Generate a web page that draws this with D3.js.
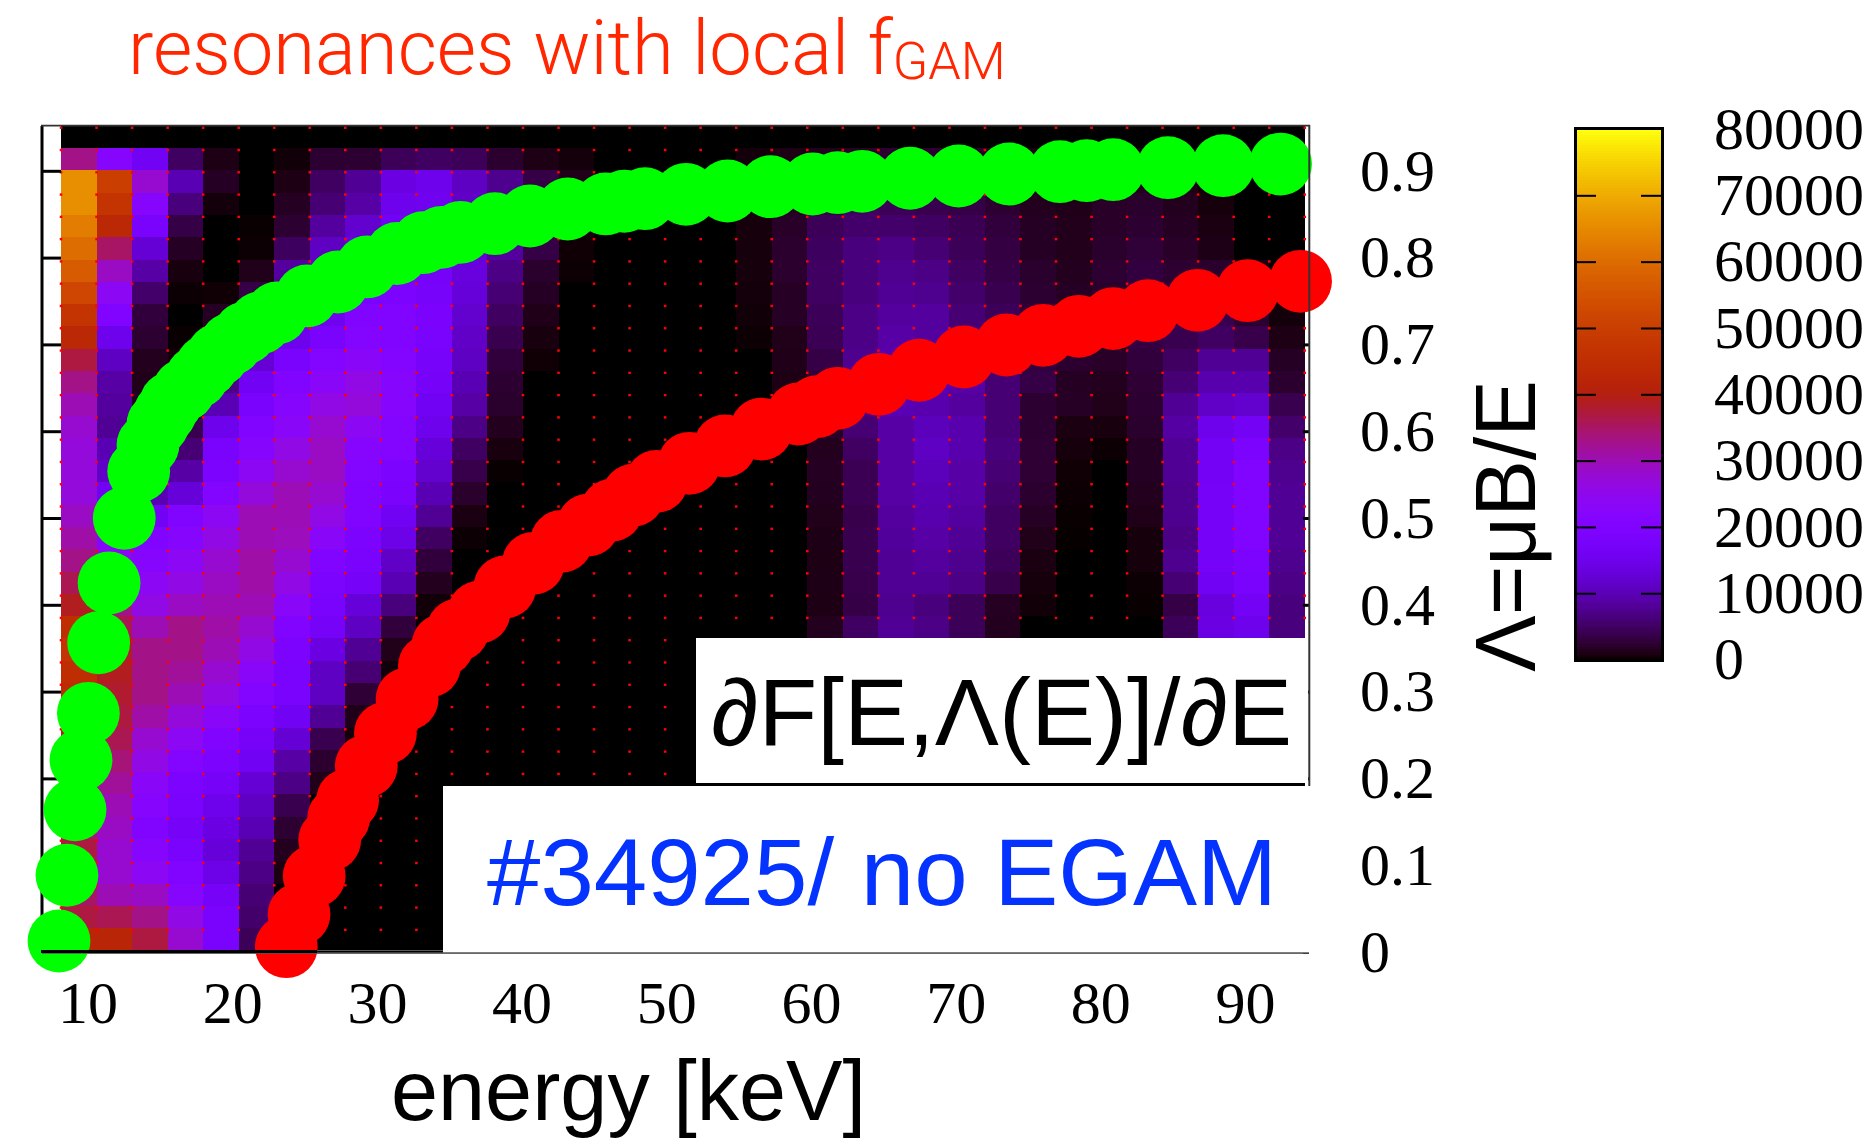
<!DOCTYPE html>
<html>
<head>
<meta charset="utf-8">
<title>resonances with local fGAM</title>
<script src="https://cdnjs.cloudflare.com/ajax/libs/d3/7.8.5/d3.min.js"></script>
<style>
html, body { margin: 0; padding: 0; background: #fff; }
svg { display: block; }
.serif { font-family: "Liberation Serif", serif; }
.sans { font-family: "Liberation Sans", sans-serif; }
</style>
</head>
<body>
<div id="vue"></div>
<script>
// ticks
var xTicks = [10, 20, 30, 40, 50, 60, 70, 80, 90];
var yTicks = [0, 0.1, 0.2, 0.3, 0.4, 0.5, 0.6, 0.7, 0.8, 0.9];
var cTicks = [0, 10000, 20000, 30000, 40000, 50000, 60000, 70000, 80000];

// resonance curves
var greenE = [8.03, 8.58, 9.14, 9.55, 10.06, 10.77, 11.49, 12.54, 13.54, 14.18, 14.87, 15.36, 15.77, 16.67, 17.57, 18.26, 19.02, 19.92, 20.88, 21.92, 23.10, 25.17, 27.31, 29.32, 31.39, 33.19, 34.48, 35.79, 38.16, 40.58, 43.19, 45.81, 47.10, 48.53, 51.36, 54.24, 57.21, 60.12, 61.85, 63.54, 66.86, 70.21, 73.70, 77.21, 79.05, 80.89, 84.67, 88.49, 92.46];
var greenL = [.0127, .0884, .1639, .2212, .275, .3563, .4251, .4997, .5538, .5841, .6083, .621, .6325, .6475, .6624, .6751, .6878, .7005, .7131, .7247, .7362, .7558, .7719, .7892, .8047, .8172, .8234, .8291, .8391, .8479, .856, .8618, .8649, .8679, .8729, .8767, .8817, .8848, .8863, .8879, .8914, .894, .8963, .899, .9001, .9013, .9036, .9059, .9078];
var redE = [23.74, 24.62, 25.67, 26.74, 27.36, 27.98, 29.27, 30.59, 32.09, 33.63, 34.57, 35.6, 37.06, 38.85, 40.81, 42.77, 44.61, 46.23, 47.72, 49.34, 51.59, 54.06, 56.59, 59.12, 60.41, 61.85, 64.7, 67.48, 70.57, 73.52, 76.05, 78.52, 80.89, 83.29, 86.72, 90.18, 93.84];
var redL = [.0061, .0434, .0876, .129, .1544, .1751, .2143, .252, .2915, .3295, .3537, .371, .3914, .4205, .4478, .4731, .4919, .5089, .5262, .5423, .563, .583, .6025, .6198, .6282, .6379, .654, .6702, .6855, .6993, .7105, .7208, .7298, .7388, .7508, .7619, .7727];

// grid of the distribution
var energyGrid = d3.range(36).map(function (i) { return 8.17 + 2.456 * i; });
var lambdaGrid = d3.range(38).map(function (k) { return 0.0019 + 0.02567 * k; });

// first row of each column (from Lambda=0), everything below and above the list is 0
var heatStart = [0, 0, 0, 0, 0, 0, 0, 7, 9, 12, 15, 18, 21, 26, 30, 0, 0, 0, 0, 27, 24, 14, 14, 14, 14, 14, 14, 15, 18, 22, 15, 14, 14, 14, 14];
// values in thousands, one list per energy column, bottom to top
var heatCols = [
  [42, 37, 35, 35, 37, 34, 33, 33, 36, 38, 43, 44, 45, 47, 45, 39, 36, 33, 31, 29, 27, 27, 27, 28, 30, 33, 37, 43, 47, 52, 57, 60, 63, 66, 66, 33],
  [42, 36, 30, 28, 28, 29, 30, 32, 34, 36, 37, 38, 39, 38, 36, 33, 28, 24, 22, 20, 16, 11.5, 10, 8, 8.5, 9, 11, 15, 20, 24, 29, 35, 43, 47, 50, 22],
  [37, 33, 29, 24, 22, 20, 22, 23, 26, 28, 31, 33, 33, 33, 30, 26, 24, 22, 20, 16, 10, 7, 5, 3, 1.7, 1.3, 1.5, 2.5, 3, 5.5, 9, 12.5, 18, 22, 28, 16],
  [28, 26, 22, 20, 18, 17, 18, 19, 21, 24, 27, 30, 32, 33, 33, 29, 26, 24, 22, 20, 13, 9, 6, 4, 2, 1, .5, .1, 0, .2, .7, 1.8, 3.5, 6.5, 10, 5],
  [18, 18, 17, 14.5, 13, 14, 15, 17, 19, 20, 23, 26, 28, 30, 31, 30, 29, 28, 26, 24, 21, 19, 18, 15, 10, 7, 4.5, 3, 1.7, .3, 0, 0, 0, .5, 1.8, 1],
  [4.5, 5.5, 6, 7, 8, 10, 11, 12.5, 16, 17, 19, 21, 23, 26, 28, 30, 31, 31, 30, 30, 27, 24, 22, 20, 18, 16, 12.5, 7.5, 5.5, 3.5, 1.3, .2, .1, 0, 0, 0],
  [0, 0, 0, .8, 1.5, 2.5, 4, 7, 9, 12.5, 16, 18, 18, 19, 20, 23, 26, 28, 29.5, 30, 30, 28, 26, 23, 22, 20, 18, 15, 12, 10, 8.5, 4.8, 2.5, 1.7, 1, .4],
  [1.3, 2.3, 4, 8, 11, 11, 14, 17, 18, 19, 20, 23, 26, 28, 29, 29, 28, 26, 23, 21, 18, 15.5, 14, 12, 11, 8.5, 6, 5, 2.5],
  [.5, 1.2, 2.7, 6, 8, 11, 13, 17, 18, 19, 20, 20, 21, 22, 24, 27, 26, 23, 21, 20, 18, 16, 14, 12, 9, 8, 2.5],
  [.4, 1.3, 3, 6.5, 10, 11.5, 14.5, 16, 18.5, 19, 21, 21, 22, 22, 21, 20, 20, 19, 18, 17, 16, 15, 14, 4.5],
  [.4, 1.5, 3, 5, 8, 10, 12, 13, 15, 16, 17, 17.5, 18, 18.5, 17.5, 17, 16, 15.5, 15.5, 15, 5],
  [.2, .8, 2.2, 3.8, 5, 7, 9, 10, 11, 11.5, 12, 13, 13.5, 12.5, 12, 11.5, 11, 4.5],
  [.1, .7, 1.5, 2.2, 2.5, 3, 4, 5, 6, 7, 8.5, 8.5, 8, 7.5, 2.3],
  [.3, .7, 1.2, 1.8, 2.2, 3.5, 3.8, 3.8, 3.5, 1],
  [.2, .3, .8, 1.3, 1.3, .5],
  [],
  [],
  [],
  [],
  [.2, .4, .5, .6, .6, .6, .6, .6, .5],
  [.3, 1, 1.2, 1.3, 1.9, 1.9, 2.3, 2.3, 2, 1.8, 1.5, 1],
  [1.5, 1, 1.1, 1, 1.1, 1.3, 1.6, 1.7, 1.5, 2, 2.5, 3, 3.5, 4.3, 4.5, 5, 5, 4.8, 4.5, 3.5, 2.5, 1.5],
  [5, 3.5, 3.8, 4, 4, 3.8, 4.3, 4.3, 5, 6, 7, 7.5, 7.5, 7, 7, 6.5, 6.5, 6.5, 5.5, 5, 4, 2],
  [8, 7.5, 8, 8, 8.3, 8.5, 9, 9, 9, 9, 10, 10, 9.5, 9, 8.5, 8, 7.5, 7, 5.5, 4.5, 3.5, 2.5],
  [7, 6.5, 8, 8.5, 9, 9.5, 10, 10.5, 11, 10.5, 9.5, 10, 9, 8.5, 8.5, 7.5, 7, 6, 5, 4, 3.5, 2.5],
  [4.5, 4.5, 7, 7.5, 8, 8.5, 9, 9, 9.5, 9.5, 8.5, 9, 7, 6.5, 6, 5.5, 5, 4.5, 4.3, 3.5, 3, 2],
  [1.5, 1.7, 3.8, 4.5, 5, 5, 5.5, 6, 6.5, 6, 6, 6, 5.5, 5, 4.5, 4, 3.5, 3.3, 3, 2.5, 2, 1.5],
  [.4, .6, .8, 1.3, 1.9, 2.3, 2.6, 2.6, 2.5, 2.5, 3.5, 3.2, 3, 2.8, 2.5, 2.2, 1.8, 1.8, 1.5, 1.2, 1],
  [.05, .1, .2, .3, .6, .9, 1.9, 1.7, 2.3, 2, 2, 1.8, 1.5, 1.4, 1.4, 1.2, 1, .8],
  [.2, .7, 1.3, 1.5, 2, 2, 2, 2.2, 2.4, 2.2, 2, 2, 1.5, 1],
  [.1, .2, .6, .6, 1.2, 1.5, 1.8, 1.8, 2.2, 2.4, 2.6, 3, 3.3, 3.5, 3.3, 3.2, 2.8, 2.5, 2.2, 1.5, 1],
  [4.5, 3.5, 6, 7.5, 7, 7.5, 7.5, 8, 8, 8.8, 8, 6, 5, 4, 3.5, 3, 2.5, 2, 1.7, 1.5, 1, .5],
  [14, 13.5, 16, 17, 17, 17, 17, 16.5, 16.5, 15, 11.5, 9.5, 8, 5, 4, 3, 2.2, 1.1, .8, .6, .3],
  [15, 16.5, 18, 19, 20, 20, 20, 20, 19, 16.5, 12, 9.5, 8, 3.8, 2.5, 2, .8],
  [6.5, 6.5, 7, 7.5, 8, 8, 8, 7.5, 7, 5.5, 4, 2.3, 1.8, 1, .5]
];

var svg = d3.select("#vue").append("svg").attr("width", 1875).attr("height", 1139);

var x = d3.scaleLinear().domain([10, 90]).range([87.5, 1245]);
var y = d3.scaleLinear().domain([0, 0.9]).range([952, 170.8]);
var cy = d3.scaleLinear().domain([0, 80000]).range([659.6, 129]);

// gnuplot default palette (rgbformulae 7,5,15), blue side softened a bit around 40000
function palette(t) {
  var r = Math.sqrt(t), g = t * t * t, s = Math.sin(2 * Math.PI * t);
  var b = t < 0.25 ? s : Math.min(1, 0.5 * (s + Math.sqrt(s * s + 0.02)));
  return d3.rgb(255 * r, 255 * g, 255 * b) + "";
}
var color = d3.scaleSequential(palette).domain([0, 80000]);

// cells
var cells = [];
heatCols.forEach(function (col, i) {
  d3.range(37).forEach(function (k) {
    var v = col[k - heatStart[i]];
    cells.push({ i: i, k: k, v: v === undefined ? 0 : v * 1000 });
  });
});
svg.append("g").attr("shape-rendering", "crispEdges")
  .selectAll("rect").data(cells).enter().append("rect")
  .attr("x", function (d) { return x(energyGrid[d.i]); })
  .attr("y", function (d) { return y(lambdaGrid[d.k + 1]); })
  .attr("width", function (d) { return x(energyGrid[d.i + 1]) - x(energyGrid[d.i]); })
  .attr("height", function (d) { return y(lambdaGrid[d.k]) - y(lambdaGrid[d.k + 1]); })
  .attr("fill", function (d) { return color(d.v); });
// black strip under the last row
svg.append("rect").attr("x", x(energyGrid[0])).attr("y", y(lambdaGrid[0]))
  .attr("width", x(energyGrid[35]) - x(energyGrid[0])).attr("height", 3).attr("fill", "#000");

// grid points
var points = [];
energyGrid.forEach(function (e) {
  lambdaGrid.slice(1).forEach(function (l) { points.push([e, l]); });
});
svg.append("g").selectAll("rect").data(points).enter().append("rect")
  .attr("x", function (d) { return x(d[0]) - 1.3; })
  .attr("y", function (d) { return y(d[1]) + 0.6; })
  .attr("width", 2.6).attr("height", 2.4).attr("fill", "#ff0000");

// frame left and top, under the circles
var leftAxis = svg.append("g").attr("transform", "translate(42,0)")
  .call(d3.axisRight(y).tickValues(yTicks).tickSize(19).tickFormat(""));
leftAxis.select(".domain").remove();
leftAxis.selectAll("line").attr("stroke", "#000").attr("stroke-width", 3);
svg.append("line").attr("x1", 42).attr("x2", 42).attr("y1", 126).attr("y2", 953).attr("stroke", "#000").attr("stroke-width", 3);
svg.append("line").attr("x1", 41).attr("x2", 1310).attr("y1", 125.6).attr("y2", 125.6).attr("stroke", "#333").attr("stroke-width", 1.8);

// y axis with labels on the right
var rightAxis = svg.append("g").attr("transform", "translate(1309,0)")
  .call(d3.axisRight(y).tickValues(yTicks).tickSize(-6).tickPadding(51).tickFormat(function (d) { return d; }));
rightAxis.select(".domain").remove();
rightAxis.selectAll("line").attr("stroke", "#000").attr("stroke-width", 3);
rightAxis.selectAll("text").attr("class", "serif").attr("font-family", null).attr("font-size", 60).attr("fill", "#000");

// resonances
svg.append("g").selectAll("circle").data(greenE).enter().append("circle")
  .attr("cx", function (d) { return x(d); })
  .attr("cy", function (d, i) { return y(greenL[i]); })
  .attr("r", 31.4).attr("fill", "#00ff00");
svg.append("g").selectAll("circle").data(redE).enter().append("circle")
  .attr("cx", function (d) { return x(d); })
  .attr("cy", function (d, i) { return y(redL[i]); })
  .attr("r", 31.4).attr("fill", "#ff0000");

svg.append("line").attr("x1", 1309.3).attr("x2", 1309.3).attr("y1", 125).attr("y2", 786).attr("stroke", "#333").attr("stroke-width", 2);

// white boxes pasted on the plot
svg.append("rect").attr("x", 696).attr("y", 638).attr("width", 612).attr("height", 145).attr("fill", "#fff");
svg.append("rect").attr("x", 443).attr("y", 786).attr("width", 870).attr("height", 167).attr("fill", "#fff");

// x axis
var bottomAxis = svg.append("g").attr("transform", "translate(0,953)")
  .call(d3.axisBottom(x).tickValues(xTicks).tickSize(0).tickPadding(27).tickFormat(function (d) { return d; }));
bottomAxis.select(".domain").remove();
bottomAxis.selectAll("text").attr("class", "serif").attr("font-family", null).attr("font-size", 60).attr("fill", "#000");
svg.append("line").attr("x1", 42).attr("x2", 1309).attr("y1", 953).attr("y2", 953).attr("stroke", "#555").attr("stroke-width", 1.4);
svg.append("line").attr("x1", 41).attr("x2", 317).attr("y1", 951.6).attr("y2", 951.6).attr("stroke", "#000").attr("stroke-width", 3);

// colour box
var cbar = svg.append("g");
cbar.attr("shape-rendering", "crispEdges").selectAll("rect").data(d3.range(0, 80000, 400)).enter().append("rect")
  .attr("x", 1575).attr("width", 87)
  .attr("y", function (d) { return cy(d + 400); })
  .attr("height", function (d) { return cy(d) - cy(d + 400) + 0.5; })
  .attr("fill", function (d) { return color(d + 200); });
cbar.append("rect").attr("x", 1575.5).attr("y", 128).attr("width", 86.5).attr("height", 532)
  .attr("fill", "none").attr("stroke", "#000").attr("stroke-width", 3);

var innerTicks = cTicks.slice(1, -1);
var cLeft = svg.append("g").attr("transform", "translate(1576,0)")
  .call(d3.axisLeft(cy).tickValues(innerTicks).tickSize(-20).tickFormat(""));
var cRight = svg.append("g").attr("transform", "translate(1661,0)")
  .call(d3.axisRight(cy).tickValues(innerTicks).tickSize(-20).tickFormat(""));
[cLeft, cRight].forEach(function (a) {
  a.select(".domain").remove();
  a.selectAll("line").attr("stroke", "#000").attr("stroke-width", 2);
});
var cLabels = svg.append("g").attr("transform", "translate(1663,0)")
  .call(d3.axisRight(cy).tickValues(cTicks).tickSize(0).tickPadding(51).tickFormat(function (d) { return d; }));
cLabels.select(".domain").remove();
cLabels.selectAll("text").attr("class", "serif").attr("font-family", null).attr("font-size", 60).attr("fill", "#000");

// texts
svg.append("text").attr("class", "sans").attr("x", 391).attr("y", 1120)
  .attr("font-size", 85).attr("textLength", 475).attr("lengthAdjust", "spacingAndGlyphs").attr("fill", "#000").text("energy [keV]");
svg.append("text").attr("class", "sans").attr("transform", "translate(1535,672) rotate(-90)")
  .attr("font-size", 85).attr("textLength", 292).attr("lengthAdjust", "spacingAndGlyphs").attr("fill", "#000").text("Λ=μB/E");
svg.append("text").attr("class", "sans").attr("x", 711).attr("y", 745)
  .attr("font-size", 94).attr("textLength", 581).attr("lengthAdjust", "spacingAndGlyphs").attr("fill", "#000").text("∂F[E,Λ(E)]/∂E");
svg.append("text").attr("class", "sans").attr("x", 487).attr("y", 905)
  .attr("font-size", 94).attr("textLength", 790).attr("lengthAdjust", "spacingAndGlyphs").attr("fill", "#0433ff").text("#34925/ no EGAM");

var title = svg.append("text").attr("x", 128).attr("y", 74).attr("fill", "#ff2600")
  .attr("font-family", "Roboto, 'Liberation Sans', sans-serif").attr("font-weight", 300);
title.append("tspan").attr("font-size", 76).text("resonances with local f");
title.append("tspan").attr("font-size", 52).attr("dy", 5).text("GAM");
</script>
</body>
</html>
